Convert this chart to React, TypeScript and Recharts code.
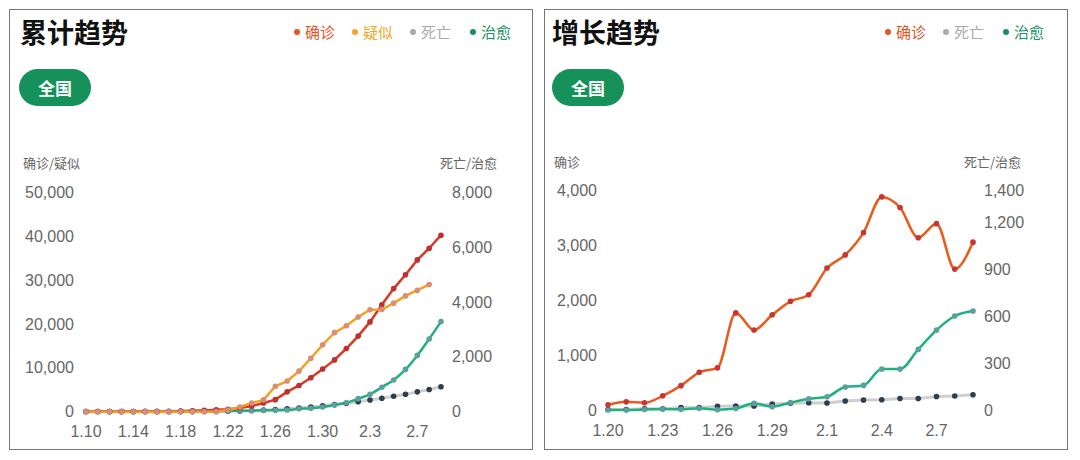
import React from 'react';
import { LineChart, Line, XAxis, YAxis } from 'recharts';

// ---------- 累计趋势 (cumulative) ----------
const cumDates = ['1.10','1.11','1.12','1.13','1.14','1.15','1.16','1.17','1.18','1.19','1.20','1.21','1.22','1.23','1.24','1.25','1.26','1.27','1.28','1.29','1.30','1.31','2.1','2.2','2.3','2.4','2.5','2.6','2.7','2.8','2.9'];
const cumConfirmed = [41,41,41,41,41,41,45,62,121,198,291,440,571,830,1287,1975,2744,4515,5974,7711,9692,11791,14380,17205,20438,24324,28018,31161,34546,37198,40171];
const cumSuspected: (number | null)[] = [0,0,0,0,0,0,0,0,0,0,0,54,393,1072,1965,2684,5794,6973,9239,12167,15238,17988,19544,21558,23214,23260,24702,26359,27657,28942,null];
const cumDead = [1,1,1,1,1,2,2,2,3,3,6,9,17,25,41,56,80,106,132,170,213,259,304,361,425,490,563,636,722,811,908];
const cumCured = [2,6,7,7,7,12,15,19,24,25,25,25,28,34,38,49,51,60,103,124,171,243,328,475,632,892,1153,1540,2050,2649,3281];
const cumLeftTicks = [0,10000,20000,30000,40000,50000];
const cumRightTicks = [0,2000,4000,6000,8000];

// ---------- 增长趋势 (daily new) ----------
const newDates = ['1.20','1.21','1.22','1.23','1.24','1.25','1.26','1.27','1.28','1.29','1.30','1.31','2.1','2.2','2.3','2.4','2.5','2.6','2.7','2.8','2.9'];
const newConfirmed = [95,149,131,259,444,688,769,1771,1459,1737,1982,2102,2590,2829,3235,3887,3694,3143,3399,2570,3062];
const newDead = [3,3,8,8,16,15,24,26,26,38,43,46,45,57,64,65,73,73,86,89,97];
const newCured = [0,0,3,6,4,11,2,9,43,21,47,72,85,147,157,262,261,387,510,600,632];
const newLeftTicks = [0,1000,2000,3000,4000];
const newRightTicks = [0,300,600,900,1200,1400];

const cumData = cumDates.map((d, i) => ({
  date: d,
  confirmed: cumConfirmed[i],
  suspected: cumSuspected[i],
  dead: cumDead[i],
  cured: cumCured[i],
}));
const newData = newDates.map((d, i) => ({
  date: d,
  confirmed: newConfirmed[i],
  dead: newDead[i],
  cured: newCured[i],
}));

const CJK = '"Noto Sans CJK SC", "Noto Sans", sans-serif';
const NUM = '"Liberation Sans", Arial, sans-serif';
const fmt = (v: number) => v.toLocaleString('en-US');

const yTick = { fill: '#666', fontSize: 16, fontFamily: NUM };
const xTick = { fill: '#666', fontSize: 16, fontFamily: NUM };

const abs = (l: number, t: number, extra: React.CSSProperties = {}): React.CSSProperties => ({
  position: 'absolute', left: l, top: t, ...extra,
});

function LegendItem({ x, color, label }: { x: number; color: string; label: string }) {
  return (
    <div style={abs(x - 3, 22, { display: 'flex', alignItems: 'center', height: 20, color, fontSize: 15, fontFamily: CJK, lineHeight: '20px', whiteSpace: 'nowrap' })}>
      <span style={{ width: 6, height: 6, borderRadius: 3, background: color, display: 'inline-block', marginRight: 5 }} />
      <span>{label}</span>
    </div>
  );
}

function Panel({ left, title, titleX, btnX }: { left: number; title: string; titleX: number; btnX: number }) {
  return (
    <>
      <div style={abs(left, 9, { width: 524, height: 441, border: '1px solid #777', boxSizing: 'border-box' })} />
      <div style={abs(titleX, 16, { fontSize: 27, fontWeight: 700, fontFamily: CJK, color: '#111', lineHeight: '32px', whiteSpace: 'nowrap' })}>{title}</div>
      <div style={abs(btnX, 69, { width: 72, height: 37, borderRadius: 19, background: '#16915a', color: '#fff', fontSize: 17, fontWeight: 700, fontFamily: CJK, display: 'flex', alignItems: 'center', justifyContent: 'center' })}>全国</div>
    </>
  );
}

export default function App() {
  return (
    <div style={{ position: 'absolute', left: 0, top: 0, width: 1080, height: 460, background: '#fff', overflow: 'hidden' }}>
      {/* Left panel */}
      <Panel left={9} title="累计趋势" titleX={20} btnX={19} />
      <LegendItem x={297} color="#e2561f" label="确诊" />
      <LegendItem x={355} color="#f5a623" label="疑似" />
      <LegendItem x={413} color="#aaaaaa" label="死亡" />
      <LegendItem x={473} color="#1a9060" label="治愈" />
      <div style={abs(23, 154, { fontSize: 13, color: '#666', fontFamily: CJK, lineHeight: '18px', whiteSpace: 'nowrap' })}>确诊/疑似</div>
      <div style={abs(440, 154, { fontSize: 13, color: '#666', fontFamily: CJK, lineHeight: '18px', whiteSpace: 'nowrap' })}>死亡/治愈</div>
      <div style={abs(0, 150)}>
        <LineChart width={540} height={300} data={cumData} margin={{ top: 42, right: 19, bottom: 8.3, left: 6 }}>
          <XAxis dataKey="date" interval={3} axisLine={false} tickLine={false} tickSize={0} tickMargin={14} height={30} tick={xTick} padding={{ left: 0, right: 0 }} />
          <YAxis yAxisId="l" orientation="left" width={80} domain={[0, 50000]} ticks={cumLeftTicks} axisLine={false} tickLine={false} tickSize={0} tickMargin={12} tick={yTick} tickFormatter={fmt} />
          <YAxis yAxisId="r" orientation="right" width={80} domain={[0, 8000]} ticks={cumRightTicks} axisLine={false} tickLine={false} tickSize={0} tickMargin={11} tick={yTick} tickFormatter={fmt} />
          <Line yAxisId="r" dataKey="dead" type="linear" stroke="#cfcfcf" strokeWidth={3} dot={{ r: 2.8, fill: '#2c3e50', stroke: '#2c3e50', strokeWidth: 0 }} isAnimationActive={false} />
          <Line yAxisId="r" dataKey="cured" type="monotone" stroke="#1bb37b" strokeWidth={2.5} dot={{ r: 2.8, fill: '#5d9fa0', stroke: '#5d9fa0', strokeWidth: 0 }} isAnimationActive={false} />
          <Line yAxisId="l" dataKey="confirmed" type="linear" stroke="#d83a22" strokeWidth={2.5} dot={{ r: 2.8, fill: '#bf3030', stroke: '#bf3030', strokeWidth: 0 }} isAnimationActive={false} />
          <Line yAxisId="l" dataKey="suspected" type="linear" stroke="#f7a01c" strokeWidth={2.5} dot={{ r: 2.8, fill: '#d98f76', stroke: '#d98f76', strokeWidth: 0 }} isAnimationActive={false} />
        </LineChart>
      </div>

      {/* Right panel */}
      <Panel left={544} title="增长趋势" titleX={552} btnX={552} />
      <LegendItem x={888} color="#e2561f" label="确诊" />
      <LegendItem x={946} color="#aaaaaa" label="死亡" />
      <LegendItem x={1006} color="#1a9060" label="治愈" />
      <div style={abs(554, 153, { fontSize: 13, color: '#666', fontFamily: CJK, lineHeight: '18px', whiteSpace: 'nowrap' })}>确诊</div>
      <div style={abs(964, 153, { fontSize: 13, color: '#666', fontFamily: CJK, lineHeight: '18px', whiteSpace: 'nowrap' })}>死亡/治愈</div>
      <div style={abs(540, 150)}>
        <LineChart width={540} height={300} data={newData} margin={{ top: 40.7, right: 27, bottom: 10, left: 8 }}>
          <XAxis dataKey="date" interval={2} axisLine={false} tickLine={false} tickSize={0} tickMargin={15} height={30} tick={xTick} padding={{ left: 0, right: 0 }} />
          <YAxis yAxisId="l" orientation="left" width={60} domain={[0, 4000]} ticks={newLeftTicks} axisLine={false} tickLine={false} tickSize={0} tickMargin={11} tick={yTick} tickFormatter={fmt} />
          <YAxis yAxisId="r" orientation="right" width={80} domain={[0, 1400]} ticks={newRightTicks} axisLine={false} tickLine={false} tickSize={0} tickMargin={11} tick={yTick} tickFormatter={fmt} />
          <Line yAxisId="r" dataKey="dead" type="linear" stroke="#cfcfcf" strokeWidth={3} dot={{ r: 2.8, fill: '#2c3e50', stroke: '#2c3e50', strokeWidth: 0 }} isAnimationActive={false} />
          <Line yAxisId="r" dataKey="cured" type="monotone" stroke="#1bb37b" strokeWidth={2.5} dot={{ r: 2.8, fill: '#5d9fa0', stroke: '#5d9fa0', strokeWidth: 0 }} isAnimationActive={false} />
          <Line yAxisId="l" dataKey="confirmed" type="monotone" stroke="#ea5a1a" strokeWidth={2.5} dot={{ r: 2.8, fill: '#c83535', stroke: '#c83535', strokeWidth: 0 }} isAnimationActive={false} />
        </LineChart>
      </div>
    </div>
  );
}
